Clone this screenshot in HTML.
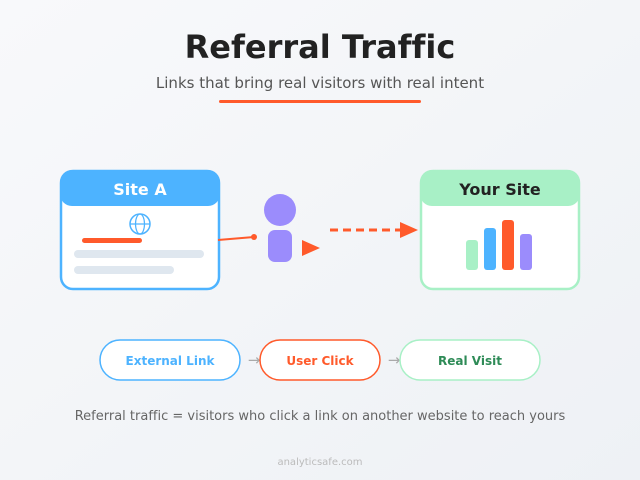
<!DOCTYPE html>
<html><head><meta charset="utf-8"><style>
html,body{margin:0;padding:0;width:640px;height:480px;overflow:hidden}
svg{display:block;font-family:"DejaVu Sans","Liberation Sans",sans-serif;font-variant-ligatures:none}
</style></head><body>
<svg width="640" height="480" viewBox="0 0 640 480" xmlns="http://www.w3.org/2000/svg">
<defs><linearGradient id="bg" x1="0" y1="0" x2="1" y2="1"><stop offset="0" stop-color="#f8f9fb"/><stop offset="1" stop-color="#eef1f5"/></linearGradient></defs>
<rect width="640" height="480" fill="url(#bg)"/>
<text x="320" y="58" text-anchor="middle" font-size="32" font-weight="bold" fill="#222">Referral Traffic</text>
<text x="320" y="88" text-anchor="middle" font-size="15" fill="#555">Links that bring real visitors with real intent</text>
<rect x="219" y="100" width="202" height="3" rx="1.5" fill="#ff5a2b"/>

<!-- Site A -->
<rect x="61" y="171" width="158" height="118" rx="12" fill="#fff" stroke="#4db3ff" stroke-width="2.5"/>
<path d="M60 182 a12 12 0 0 1 12 -12 h136 a12 12 0 0 1 12 12 v12 a12 12 0 0 1 -12 12 h-136 a12 12 0 0 1 -12 -12 z" fill="#4db3ff"/>
<text x="140" y="195" text-anchor="middle" font-size="16" font-weight="bold" fill="#fff">Site A</text>
<circle cx="140" cy="224" r="10" fill="none" stroke="#4db3ff" stroke-width="1.5"/>
<ellipse cx="140" cy="224" rx="4.5" ry="10" fill="none" stroke="#4db3ff" stroke-width="1.2"/>
<line x1="130" y1="224" x2="150" y2="224" stroke="#4db3ff" stroke-width="1.2"/>
<rect x="82" y="238" width="60" height="5" rx="2.5" fill="#ff5a2b"/>
<rect x="74" y="250" width="130" height="8" rx="4" fill="#dfe7ef"/>
<rect x="74" y="266" width="100" height="8" rx="4" fill="#dfe7ef"/>
<line x1="218" y1="240" x2="254" y2="237" stroke="#ff5a2b" stroke-width="2"/>
<circle cx="254" cy="237" r="3" fill="#ff5a2b"/>

<!-- Person -->
<circle cx="280" cy="210" r="16" fill="#9b8cfc"/>
<rect x="268" y="230" width="24" height="32" rx="7" fill="#9b8cfc"/>
<polygon points="302,240 320,248 302,256" fill="#ff5a2b"/>
<line x1="330" y1="230" x2="400" y2="230" stroke="#ff5a2b" stroke-width="3" stroke-dasharray="8,5"/>
<polygon points="400,222 418,230 400,238" fill="#ff5a2b"/>

<!-- Your Site -->
<rect x="421" y="171" width="158" height="118" rx="12" fill="#fff" stroke="#a8f0c6" stroke-width="2.5"/>
<path d="M420 182 a12 12 0 0 1 12 -12 h136 a12 12 0 0 1 12 12 v12 a12 12 0 0 1 -12 12 h-136 a12 12 0 0 1 -12 -12 z" fill="#a8f0c6"/>
<text x="500" y="195" text-anchor="middle" font-size="16" font-weight="bold" fill="#222">Your Site</text>
<rect x="466" y="240" width="12" height="30" rx="3" fill="#a8f0c6"/>
<rect x="484" y="228" width="12" height="42" rx="3" fill="#4db3ff"/>
<rect x="502" y="220" width="12" height="50" rx="3" fill="#ff5a2b"/>
<rect x="520" y="234" width="12" height="36" rx="3" fill="#9b8cfc"/>

<!-- Pills -->
<rect x="100" y="340" width="140" height="40" rx="20" fill="#fff" stroke="#4db3ff" stroke-width="1.5"/>
<text x="170" y="365" text-anchor="middle" font-size="12" font-weight="bold" fill="#4db3ff">External Link</text>
<text x="254" y="365" text-anchor="middle" font-size="15" fill="#aaa">→</text>
<rect x="260" y="340" width="120" height="40" rx="20" fill="#fff" stroke="#ff5a2b" stroke-width="1.5"/>
<text x="320" y="365" text-anchor="middle" font-size="12" font-weight="bold" fill="#ff5a2b">User Click</text>
<text x="394" y="365" text-anchor="middle" font-size="15" fill="#aaa">→</text>
<rect x="400" y="340" width="140" height="40" rx="20" fill="#fff" stroke="#a8f0c6" stroke-width="1.5"/>
<text x="470" y="365" text-anchor="middle" font-size="12" font-weight="bold" fill="#2e8b57">Real Visit</text>

<text x="320" y="420" text-anchor="middle" font-size="13" fill="#666">Referral traffic = visitors who click a link on another website to reach yours</text>
<text x="320" y="465" text-anchor="middle" font-size="10" fill="#bbb">analyticsafe.com</text>
</svg>
</body></html>
